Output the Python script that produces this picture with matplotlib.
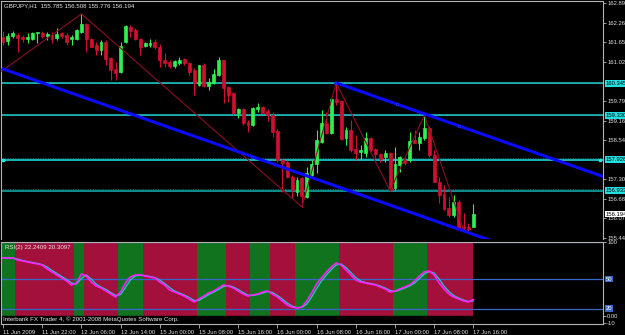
import matplotlib
matplotlib.use("Agg")
import matplotlib.pyplot as plt
from matplotlib.transforms import blended_transform_factory, ScaledTranslation

plt.rcParams['font.family'] = ['Liberation Sans', 'DejaVu Sans']

# GBPJPY H1 candles, 97 bars starting 11 Jun 2009 14:00
opens = [161.82, 161.69, 161.85, 161.88, 161.82, 161.75, 161.75, 161.94, 161.94, 161.85,
         161.88, 161.78, 161.94, 161.88, 161.75, 161.75, 161.97, 162.23, 161.75, 161.56,
         161.40, 161.66, 161.15, 160.80, 160.70, 161.66, 162.13, 162.04, 161.75, 161.53,
         161.56, 161.66, 161.50, 161.09, 161.02, 160.90, 160.99, 161.12, 160.99, 160.77,
         160.29, 160.93, 160.26, 160.36, 160.61, 161.09, 160.23, 160.04, 159.40, 159.53,
         159.12, 159.02, 159.53, 159.59, 159.47, 159.34, 158.83, 157.91, 157.85, 157.37,
         156.90, 157.34, 156.74, 157.43, 157.78, 158.48, 159.09, 158.77, 159.85, 159.78,
         158.61, 158.86, 158.26, 158.17, 158.13, 158.61, 158.26, 158.10, 158.01, 158.13,
         157.02, 157.75, 157.91, 157.91, 158.55, 158.45, 158.61, 158.93, 158.07, 157.21,
         156.83, 156.39, 156.17, 156.58, 155.78, 155.78, 155.785]
highs = [162.01, 161.94, 162.01, 161.94, 161.88, 161.94, 161.97, 161.98, 162.01, 161.97,
         161.97, 162.10, 161.97, 161.94, 161.88, 162.07, 162.55, 162.26, 161.78, 161.66,
         161.72, 161.72, 161.18, 161.02, 161.66, 162.20, 162.20, 162.10, 161.78, 161.66,
         161.75, 161.75, 161.59, 161.31, 161.09, 161.09, 161.18, 161.15, 161.02, 160.83,
         160.93, 160.99, 160.51, 160.80, 161.18, 161.09, 160.26, 160.07, 159.56, 159.56,
         159.18, 159.59, 159.72, 159.63, 159.53, 159.43, 158.90, 157.94, 157.91, 157.43,
         157.37, 157.37, 157.69, 157.91, 158.86, 159.50, 159.43, 159.88, 160.36, 159.82,
         158.96, 159.18, 158.70, 158.39, 158.80, 158.64, 158.29, 158.13, 158.23, 158.17,
         158.32, 158.04, 158.01, 158.80, 158.86, 158.80, 159.34, 158.99, 158.23, 157.37,
         157.12, 156.74, 156.80, 156.64, 156.23, 155.91, 156.508]
lows = [161.56, 161.56, 161.78, 161.34, 161.66, 161.63, 161.72, 161.63, 161.78, 161.72,
        161.63, 161.72, 161.78, 161.56, 161.56, 161.72, 161.94, 161.34, 161.50, 161.24,
        161.24, 160.93, 160.45, 160.45, 160.67, 161.63, 161.82, 161.72, 161.24, 161.50,
        161.50, 161.43, 160.86, 160.86, 160.83, 160.83, 160.93, 160.93, 160.61, 159.97,
        160.26, 160.23, 160.13, 160.32, 160.58, 159.72, 159.75, 159.34, 159.24, 159.02,
        158.80, 158.99, 159.43, 159.40, 159.15, 158.64, 157.85, 156.90, 157.34, 156.70,
        156.77, 156.42, 156.70, 157.37, 157.50, 158.45, 158.74, 158.74, 159.66, 158.55,
        158.39, 158.17, 157.91, 157.91, 158.01, 158.17, 157.97, 157.85, 157.85, 156.93,
        156.96, 157.53, 157.75, 157.85, 158.45, 158.23, 158.55, 158.01, 157.21, 156.55,
        156.32, 156.10, 156.10, 155.75, 155.69, 155.63, 155.776]
closes = [161.66, 161.85, 161.94, 161.78, 161.75, 161.82, 161.94, 161.97, 161.85, 161.91,
          161.75, 161.91, 161.85, 161.66, 161.82, 162.04, 162.23, 161.75, 161.50, 161.40,
          161.66, 161.12, 160.77, 160.67, 161.53, 162.17, 162.01, 161.75, 161.50, 161.63,
          161.63, 161.50, 161.09, 160.99, 160.90, 161.05, 161.09, 160.99, 160.70, 160.36,
          160.93, 160.26, 160.39, 160.64, 161.09, 160.20, 159.97, 159.40, 159.53, 159.09,
          159.02, 159.56, 159.59, 159.40, 159.34, 158.80, 157.91, 157.82, 157.37, 156.96,
          157.28, 156.77, 157.50, 157.78, 158.55, 159.09, 158.77, 159.85, 159.75, 158.58,
          158.86, 158.23, 158.13, 158.23, 158.61, 158.23, 158.10, 157.94, 158.13, 156.96,
          157.78, 158.01, 157.82, 158.51, 158.45, 158.64, 158.93, 158.07, 157.21, 156.80,
          156.36, 156.17, 156.58, 155.75, 155.75, 155.72, 156.194]

rsi_main = [78.4, 78.4, 78.4, 75.7, 74.3, 73.0, 71.6, 70.3, 68.9, 63.5,
            59.5, 55.4, 51.4, 47.3, 41.9, 44.6, 56.8, 54.1, 45.9, 40.5,
            37.8, 33.8, 29.7, 25.7, 32.4, 44.6, 52.7, 55.4, 55.4, 54.1,
            52.7, 51.4, 45.9, 41.9, 35.1, 32.4, 29.7, 27.0, 23.0, 18.9,
            23.0, 27.0, 31.1, 33.8, 37.8, 41.9, 40.5, 37.8, 33.8, 29.7,
            27.0, 28.4, 29.7, 32.4, 33.8, 29.7, 25.7, 20.3, 14.9, 12.2,
            10.8, 12.2, 20.3, 31.1, 43.2, 51.4, 59.5, 66.2, 71.6, 68.9,
            62.2, 55.4, 48.6, 45.9, 44.6, 43.2, 41.9, 39.2, 36.5, 32.4,
            33.8, 36.5, 39.2, 41.9, 47.3, 54.1, 59.5, 60.8, 55.4, 44.6,
            36.5, 29.7, 25.7, 23.0, 20.3, 18.9, 22.24]
rsi_signal = [78.4, 78.4, 78.4, 77.0, 75.0, 73.6, 72.3, 71.0, 69.6, 66.2,
              61.5, 57.5, 53.4, 49.3, 44.6, 43.2, 50.7, 55.4, 50.0, 43.2,
              39.2, 35.8, 31.7, 27.7, 29.0, 38.5, 48.6, 54.1, 55.4, 54.7,
              53.4, 52.0, 48.6, 43.9, 38.5, 33.8, 31.1, 28.4, 25.0, 21.0,
              21.0, 25.0, 29.0, 32.4, 35.8, 39.9, 41.2, 39.2, 35.8, 31.8,
              28.4, 27.7, 29.0, 31.1, 33.1, 31.8, 27.7, 23.0, 17.6, 13.5,
              11.5, 11.5, 16.2, 25.7, 37.2, 47.3, 55.4, 62.8, 68.9, 70.3,
              65.5, 58.8, 52.0, 47.3, 45.2, 43.9, 42.6, 40.5, 37.8, 34.5,
              33.1, 35.1, 37.8, 40.5, 44.6, 50.7, 56.8, 60.1, 58.1, 50.0,
              40.5, 33.1, 27.7, 24.3, 21.6, 19.6, 20.31]

# background bands of the RSI window (bar edges) and their state
band_edges = [-0.5, 2.5, 14.5, 16.5, 23.5, 28.5, 39.5, 45.5, 50.5, 54.5, 59.5, 68.5, 79.5, 86.5, 96.0]
band_up = [True, False, True, False, True, False, True, False, True, False, True, False, True, False]

h_levels = [160.345, 159.330, 157.926, 156.933]
zz_bars = [-2, 16, 61, 68, 79, 86, 94]
zz_prices = [160.54, 162.55, 156.42, 160.36, 156.93, 159.34, 155.69]
lower_trend = [(0, 160.80), (83, 156.26)]
upper_trend = [(68, 160.36), (97.3, 158.76)]
trend_handles = [(50.8, 158.00), (67.8, 160.36), (80.4, 159.69), (93.1, 158.99)]
level_handles = [(0, 157.926), (121.8, 157.926)]

# RSI window levels as drawn and as labelled
rsi_levels = [50, 10]
rsi_level_labels = ['50', '20']

price_ticks = [162.895, 162.265, 161.650, 161.020, 159.790, 159.160, 158.545,
               157.300, 156.685, 156.070, 155.440]
time_ticks = [0, 8, 16, 24, 32, 40, 48, 56, 64, 72, 80, 88, 96]
time_labels = ['11 Jun 2009', '11 Jun 22:00', '12 Jun 06:00', '12 Jun 14:00',
               '15 Jun 00:00', '15 Jun 08:00', '15 Jun 16:00', '16 Jun 00:00',
               '16 Jun 08:00', '16 Jun 16:00', '17 Jun 00:00', '17 Jun 08:00',
               '17 Jun 16:00']

GREEN = '#2ef050'
RED = '#d01030'
GRAY = '#b4b4b4'
FS = 4.2

fig = plt.figure(figsize=(6.25, 3.35), dpi=100, facecolor='black')
ax = fig.add_axes([1 / 625, 96 / 335, 602 / 625, 238 / 335], facecolor='black')
ax_rsi = fig.add_axes([1 / 625, 11 / 335, 602 / 625, 82 / 335], facecolor='black')

xlim = (-0.41, 122.45)

# candles
for i in range(len(opens)):
    up = closes[i] >= opens[i]
    col = GREEN if up else RED
    ax.vlines(i, lows[i], highs[i], color=col, lw=0.8, zorder=3)
    lo = min(opens[i], closes[i])
    ax.bar(i, abs(closes[i] - opens[i]), width=0.6, bottom=lo, color=col,
           edgecolor=col, lw=0.5, zorder=4)

# horizontal lines, each with a dotted twin one pixel above
up1px = ScaledTranslation(0, 1.4 / 100, fig.dpi_scale_trans)
for k, lev in enumerate(h_levels):
    c = '#12b4b4' if k == 3 else '#20e8e8'
    ax.axhline(lev, color=c, lw=1.1, zorder=2)
    ax.plot([0, 1], [lev, lev], transform=ax.get_yaxis_transform() + up1px,
            color='#1a7a7a', lw=0.6, ls=(0, (1, 1)), zorder=2)

ax.plot(zz_bars, zz_prices, color='#8a0f22', lw=0.8, zorder=5)

for (x1, y1), (x2, y2) in [lower_trend, upper_trend]:
    slope = (y2 - y1) / (x2 - x1)
    ax.plot([x1, 130], [y1, y1 + slope * (130 - x1)], color='#0a0aff', lw=2.2, zorder=6)
ax.plot([p[0] for p in trend_handles], [p[1] for p in trend_handles], 's',
        ms=2.0, mfc='#0000c8', mec='#2a40ff', mew=0.4, zorder=7)
ax.plot([p[0] for p in level_handles], [p[1] for p in level_handles], 's',
        ms=2.0, mfc='#20e8e8', mec='#20e8e8', zorder=7, clip_on=False)

ax.set_xlim(*xlim)
ax.set_ylim(155.403, 162.958)
ax.yaxis.tick_right()
ax.set_yticks(price_ticks)
ax.set_yticklabels(['%.3f' % p for p in price_ticks])
ax.tick_params(axis='y', colors=GRAY, labelcolor='#e0e0e0', labelsize=FS, length=2, pad=1, width=0.6)
ax.set_xticks([])
for s in ['left', 'top', 'right']:
    ax.spines[s].set_color(GRAY)
    ax.spines[s].set_linewidth(0.8)
ax.spines['bottom'].set_visible(False)

tr = blended_transform_factory(ax.transAxes, ax.transData)
for k, lev in enumerate(h_levels):
    ax.text(1.004, lev, '%.3f' % lev, transform=tr, fontsize=FS, va='center', ha='left',
            color='black', clip_on=False, zorder=10,
            bbox=dict(boxstyle='square,pad=0.15', fc='#22e0e0', ec='none'))
ax.text(1.004, closes[-1], '%.3f' % closes[-1], transform=tr, fontsize=FS, va='center',
        ha='left', color='black', clip_on=False, zorder=10,
        bbox=dict(boxstyle='square,pad=0.15', fc='white', ec='none'))

fig.text(4 / 625, 1 - 6 / 335,
         'GBPJPY,H1  %.3f %.3f %.3f %.3f' % (opens[-1], highs[-1], lows[-1], closes[-1]),
         color='#e8e8e8', fontsize=FS + 0.2, va='center', ha='left')

# RSI window
for k in range(len(band_up)):
    ax_rsi.axvspan(band_edges[k], band_edges[k + 1], ymin=0, ymax=1,
                   color='#12731f' if band_up[k] else '#a3103c', lw=0, zorder=0)
ax_rsi.fill_between([xlim[0], xlim[1]], -12, 0, color='black', zorder=1)
for lev in [100] + rsi_levels:
    ax_rsi.axhline(lev, color='#3a66c8', lw=0.9, zorder=2)
ax_rsi.plot(range(len(rsi_signal)), rsi_signal, color='#20c8c8', lw=0.9, zorder=3)
ax_rsi.plot(range(len(rsi_main)), rsi_main, color='#ff20ff', lw=1.2, zorder=4)
ax_rsi.set_xlim(*xlim)
ax_rsi.set_ylim(-10.8, 100)
ax_rsi.yaxis.tick_right()
ax_rsi.set_yticks([100, 0, -10])
ax_rsi.set_yticklabels(['100', '0.00', '-10'])
ax_rsi.tick_params(axis='y', colors=GRAY, labelcolor='#e0e0e0', labelsize=FS, length=2, pad=1, width=0.6)
ax_rsi.set_xticks(time_ticks)
ax_rsi.set_xticklabels(time_labels, ha='left')
ax_rsi.tick_params(axis='x', colors=GRAY, labelcolor='#e0e0e0', labelsize=FS, length=3, pad=1, width=0.6)
for s in ['left', 'top', 'right', 'bottom']:
    ax_rsi.spines[s].set_color(GRAY)
    ax_rsi.spines[s].set_linewidth(0.8)

tr2 = blended_transform_factory(ax_rsi.transAxes, ax_rsi.transData)
for lev, lab in zip(rsi_levels, rsi_level_labels):
    ax_rsi.text(1.004, lev, lab, transform=tr2, fontsize=FS, va='center', ha='left',
                color='white', clip_on=False, zorder=10,
                bbox=dict(boxstyle='square,pad=0.15', fc='#3a66c8', ec='none'))

ax_rsi.text(0.006, 0.93, 'RSI(2) %.4f %.4f' % (22.2409, 20.3097), transform=ax_rsi.transAxes,
            color='#f0e0e0', fontsize=FS + 0.2, va='center', ha='left', zorder=10)
ax_rsi.text(0.004, 0.06, 'Interbank FX Trader 4, \u00a9 2001-2008 MetaQuotes Software Corp.',
            transform=ax_rsi.transAxes, color='#e8e8e8', fontsize=FS + 0.2, va='center',
            ha='left', zorder=10)

fig.savefig('out.png', dpi=100, facecolor='black')
